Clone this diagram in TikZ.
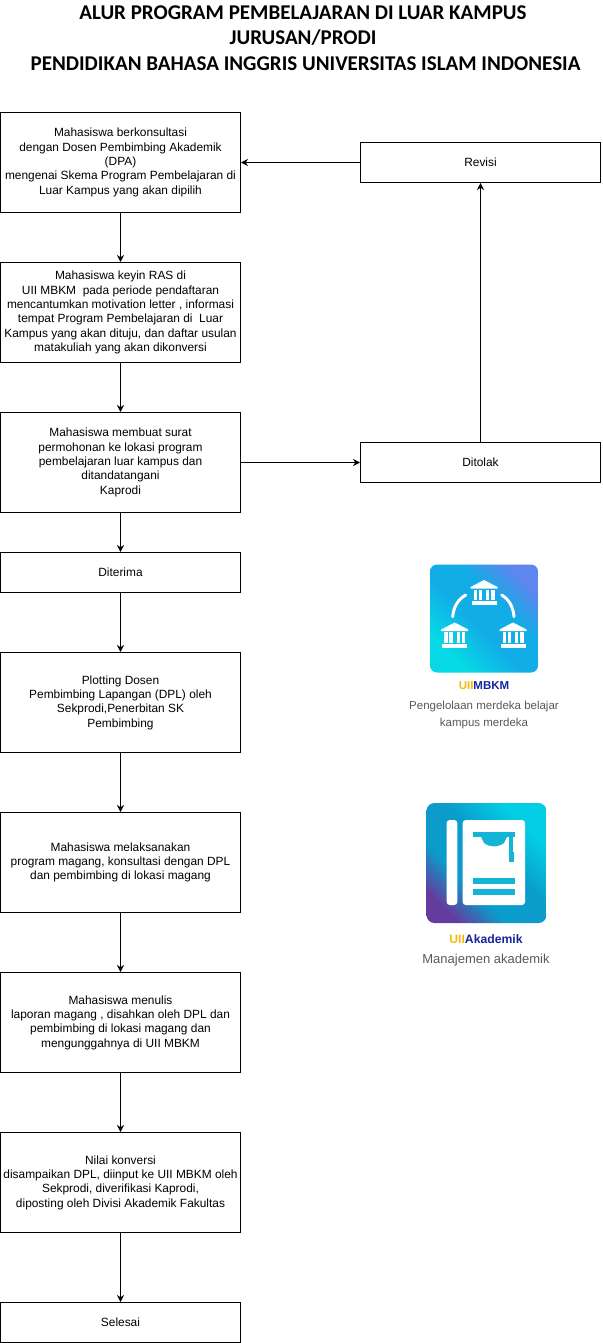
\documentclass[tikz,border=0pt]{standalone}
\usepackage{fontspec}
\setmainfont{Liberation Sans}
\newfontfamily\titlefont{Carlito}
\usetikzlibrary{arrows.meta}
\definecolor{uiiyellow}{HTML}{F5B90F}
\definecolor{uiiblue}{HTML}{14289A}
\definecolor{capgray}{HTML}{5A5A5A}
\definecolor{cyanA}{HTML}{06D8E6}
\definecolor{cyanB}{HTML}{12ACE6}
\definecolor{cyanC}{HTML}{5F85EE}
\definecolor{bookA}{HTML}{643C9E}
\definecolor{bookB}{HTML}{0B9CCB}
\definecolor{bookC}{HTML}{02CDE3}
\definecolor{hatcol}{HTML}{14B4D6}
\pgfdeclarehorizontalshading{bookshade}{100bp}{color(0bp)=(bookA); color(24bp)=(bookA); color(38bp)=(bookB); color(55bp)=(bookB); color(72bp)=(bookC); color(100bp)=(bookC)}
\pgfdeclarehorizontalshading{mbkmshade}{100bp}{color(0bp)=(cyanA); color(28bp)=(cyanA); color(46bp)=(cyanB); color(60bp)=(cyanB); color(76bp)=(cyanC); color(100bp)=(cyanC)}
\tikzset{
  x=1pt,y=-1pt,
  flowbox/.style={draw=black,line width=1pt,fill=white,minimum width=240pt,align=center,inner sep=0pt,font=\fontsize{11.9}{14.3}\selectfont},
  flow/.style={draw=black,line width=1pt,-{Stealth[length=7pt,width=7pt]}},
  titletext/.style={font=\titlefont\bfseries\fontsize{21}{25.5}\selectfont,align=center,text=black,inner sep=0pt},
  captext/.style={font=\fontsize{11.5}{17.5}\selectfont,text=capgray,align=center,inner sep=0pt},
  uiitext/.style={font=\bfseries\fontsize{11.5}{14}\selectfont,inner sep=0pt},
}
\newcommand{\bank}[2]{%
  \begin{scope}[shift={(#1,#2)}]
    \fill[white] (-13.5,-5.5) -- (0,-12.5) -- (13.5,-5.5) -- (13.5,-4) -- (-13.5,-4) -- cycle;
    \fill[white] (-10.5,-3) rectangle (-7,7.5);
    \fill[white] (-5.3,-3) rectangle (-1.8,7.5);
    \fill[white] (1.8,-3) rectangle (5.3,7.5);
    \fill[white] (7,-3) rectangle (10.5,7.5);
    \fill[white] (-12.5,8.5) rectangle (12.5,12.5);
  \end{scope}}
\begin{document}
\begin{tikzpicture}
\useasboundingbox (0,0) rectangle (602,1343);
\fill[white] (0,0) rectangle (602,1343);
\node[titletext] (title) at (303,38) {ALUR PROGRAM PEMBELAJARAN DI LUAR KAMPUS\\JURUSAN/PRODI\\\hspace*{5pt}PENDIDIKAN BAHASA INGGRIS UNIVERSITAS ISLAM INDONESIA};
\node[flowbox,minimum height=100pt] (b1) at (120.5,162.5) {Mahasiswa berkonsultasi\\dengan Dosen Pembimbing Akademik\\(DPA)\\mengenai Skema Program Pembelajaran di\\Luar Kampus yang akan dipilih};
\node[flowbox,minimum height=100pt] (b2) at (120.5,312.5) {Mahasiswa keyin RAS di\\UII MBKM\ \ pada periode pendaftaran\\mencantumkan motivation letter , informasi\\tempat Program Pembelajaran di\ \ Luar\\Kampus yang akan dituju, dan daftar usulan\\matakuliah yang akan dikonversi};
\node[flowbox,minimum height=100pt] (b3) at (120.5,462.5) {Mahasiswa membuat surat\\permohonan ke lokasi program\\pembelajaran luar kampus dan\\ditandatangani\\Kaprodi};
\node[flowbox,minimum height=40pt] (b4) at (120.5,572.5) {Diterima};
\node[flowbox,minimum height=100pt] (b5) at (120.5,702.5) {Plotting Dosen\\Pembimbing Lapangan (DPL) oleh\\Sekprodi,Penerbitan SK\\Pembimbing};
\node[flowbox,minimum height=100pt] (b6) at (120.5,862.5) {Mahasiswa melaksanakan\\program magang, konsultasi dengan DPL\\dan pembimbing di lokasi magang};
\node[flowbox,minimum height=100pt] (b7) at (120.5,1022.5) {Mahasiswa menulis\\laporan magang , disahkan oleh DPL dan\\pembimbing di lokasi magang dan\\mengunggahnya di UII MBKM};
\node[flowbox,minimum height=100pt] (b8) at (120.5,1182.5) {Nilai konversi\\disampaikan DPL, diinput ke UII MBKM oleh\\Sekprodi, diverifikasi Kaprodi,\\diposting oleh Divisi Akademik Fakultas};
\node[flowbox,minimum height=40pt] (b9) at (120.5,1322.5) {Selesai};
\node[flowbox,minimum height=40pt] (rev) at (480.5,162.5) {Revisi};
\node[flowbox,minimum height=40pt] (tol) at (480.5,462.5) {Ditolak};
\draw[flow] (b1) -- (b2);
\draw[flow] (b2) -- (b3);
\draw[flow] (b3) -- (b4);
\draw[flow] (b4) -- (b5);
\draw[flow] (b5) -- (b6);
\draw[flow] (b6) -- (b7);
\draw[flow] (b7) -- (b8);
\draw[flow] (b8) -- (b9);
\draw[flow] (b3) -- (tol);
\draw[flow] (tol) -- (rev);
\draw[flow] (rev) -- (b1);
% UII MBKM icon
\begin{scope}
  \clip[rounded corners=7pt] (430,564.5) rectangle (538,672.5);
  \shade[shading=mbkmshade,shading angle=45] (430,564.5) rectangle (538,672.5);
\end{scope}
\bank{484}{592.5}
\bank{454.7}{635}
\bank{513}{635}
\draw[white,line width=3pt,line cap=round] (452.7,616.7) .. controls (453.5,606.5) and (458.5,599) .. (465.7,595);
\draw[white,line width=3pt,line cap=round] (514,616.7) .. controls (513.2,606.5) and (508.5,599) .. (501.7,595);
\node[uiitext] (mbkm) at (484,686) {\textcolor{uiiyellow}{UII}\textcolor{uiiblue}{MBKM}};
\node[captext] (mbkmcap) at (484,715) {Pengelolaan merdeka belajar\\kampus merdeka};
% UII Akademik icon
\begin{scope}
  \clip[rounded corners=8pt] (426.5,803) rectangle (546.5,923);
  \shade[shading=bookshade,shading angle=45] (426.5,803) rectangle (546.5,923);
\end{scope}
\fill[white,rounded corners=3pt] (446.7,820) -- (457.3,820) -- (457.3,905) -- (446.7,905) -- cycle;
\fill[white,rounded corners=3pt] (462.7,820) -- (525,820) -- (525,905) -- (462.7,905) -- cycle;
\fill[hatcol] (473.3,831.7) rectangle (515,836.7);
\fill[hatcol] (481,836.7) -- (484,843) .. controls (490,847.5) and (498,847.5) .. (504,843) -- (507,836.7) -- cycle;
\fill[hatcol] (509.3,836) rectangle (512.7,853);
\fill[hatcol] (508.8,852) rectangle (513.5,861.7);
\fill[hatcol] (473.3,878.3) rectangle (515,884);
\fill[hatcol] (473.3,889.3) rectangle (515,894.7);
\node[uiitext,font=\bfseries\fontsize{12.2}{14}\selectfont] (akad) at (486,939) {\textcolor{uiiyellow}{UII}\textcolor{uiiblue}{Akademik}};
\node[captext,font=\fontsize{13}{16}\selectfont] (akadcap) at (486,960) {Manajemen akademik};
\end{tikzpicture}
\end{document}
